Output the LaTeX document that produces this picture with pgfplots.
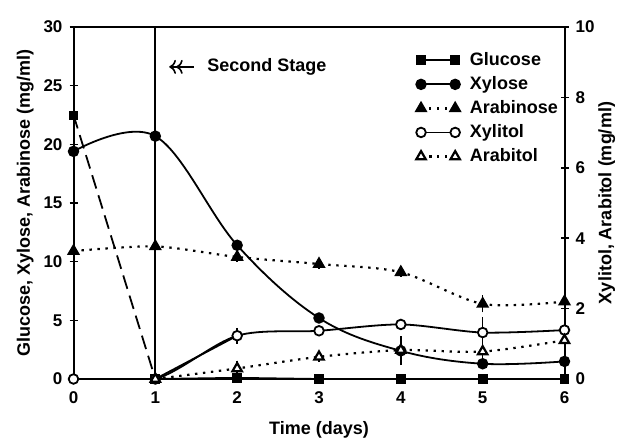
\documentclass[border=0pt]{standalone}
\usepackage{fontspec}
\setmainfont{Liberation Sans}
\usepackage{pgfplots}
\pgfplotsset{compat=1.18}
\usetikzlibrary{arrows.meta}
\begin{document}
\begin{tikzpicture}
\path[use as bounding box] (-36.75pt,-31pt) rectangle (275.75pt,189.5pt);
\pgfplotsset{
  common/.style={
    at={(0,0)}, anchor=south west,
    scale only axis, width=245.5pt, height=176pt,
    xmin=0, xmax=6,
    /pgf/number format/assume math mode=true,
    tick label style={font=\bfseries\fontsize{8.5}{10}\selectfont},
    label style={font=\bfseries\fontsize{9}{11}\selectfont},
    axis line style={line width=1pt},
    tick align=center,
    major tick length=4pt,
    every tick/.style={line width=0.8pt, black},
  },
  dotl/.style={dash pattern=on 1.2pt off 2.8pt, line width=1.1pt},
  solidl/.style={line width=0.9pt},
  eb/.style={error bars/y dir=both, error bars/y explicit, error bars/error bar style={line width=0.7pt, solid}, error bars/error mark options={mark size=2.5pt, line width=0.7pt, solid}},
}
\begin{axis}[common,
  ymin=0, ymax=30, ytick={0,5,...,30},
  xtick={0,...,6}, xtick pos=bottom, ytick pos=left,
  xtick style={draw=none},
  xticklabel style={yshift=-1pt},
  xlabel={Time (days)}, xlabel style={yshift=-2pt},
  ylabel={Glucose, Xylose, Arabinose (mg/ml)}, ylabel style={yshift=-2pt},
]
% second stage line
\addplot[line width=1.1pt, forget plot] coordinates {(1,0) (1,30)};
% glucose
\addplot[dash pattern=on 7pt off 3.5pt, line width=0.9pt, forget plot] coordinates {(0,22.5) (1,0)};
\addplot[only marks, mark=square*, mark size=2pt, eb, forget plot] coordinates {(0,22.5) +- (0,1.2)};
\addplot[solidl, mark=square*, mark size=2pt, forget plot] coordinates {(1,0) (2,0.1) (3,0) (4,0) (5,0) (6,0)};
% xylose
\addplot[solidl, smooth, tension=0.6, mark=*, mark size=2.4pt, eb, forget plot] coordinates {
 (0,19.4) +- (0,0.8)
 (1,20.7) +- (0,0.5)
 (2,11.4) +- (0,0)
 (3,5.2) +- (0,0)
 (4,2.4) +- (0,0.8)
 (5,1.3) +- (0,0)
 (6,1.5) +- (0,0)
};
% arabinose
\addplot[dotl, smooth, mark=triangle*, mark size=2.7pt, mark options={solid}, eb, forget plot] coordinates {
 (0,10.9) +- (0,0.6)
 (1,11.3) +- (0,0.3)
 (2,10.4) +- (0,0)
 (3,9.8) +- (0,0)
 (4,9.1) +- (0,0)
 (5,6.4) +- (0,0.3)
 (6,6.6) +- (0,0.4)
};
\draw[<<-, line width=0.8pt] (axis cs:1.17,26.6) -- (axis cs:1.47,26.6);
\node[anchor=west, font=\bfseries\fontsize{9}{11}\selectfont] at (axis cs:1.55,26.6) {Second Stage};
\end{axis}
\begin{axis}[common,
  ymin=0, ymax=10, ytick={0,2,...,10},
  axis y line*=right, axis x line=none,
  ylabel={Xylitol, Arabitol (mg/ml)}, ylabel shift=-5pt,
  legend style={draw=none, fill=none, at={(0.685,0.952)}, anchor=north west,
    font=\bfseries\fontsize{9}{11}\selectfont, row sep=0pt, cells={anchor=west},
    /tikz/every odd column/.append style={column sep=3pt}},
  legend image code/.code={\draw[mark repeat=2,mark phase=1,#1] plot coordinates {(0cm,0cm) (0.3cm,0cm) (0.6cm,0cm)};},
]
\addlegendimage{solidl, mark=square*, mark size=2pt}
\addlegendentry{Glucose}
\addlegendimage{solidl, mark=*, mark size=2.4pt}
\addlegendentry{Xylose}
\addlegendimage{dotl, mark=triangle*, mark size=2.7pt, mark options={solid}}
\addlegendentry{Arabinose}
% xylitol
\addplot[solidl, forget plot] coordinates {(0,0) (1,0) (2,1.23)};
\addplot[solidl, smooth, mark=*, mark size=2.4pt, mark options={fill=white}, eb] coordinates {
 (0,0) +- (0,0)
 (1,0) +- (0,0)
 (2,1.23) +- (0,0.08)
 (3,1.37) +- (0,0)
 (4,1.55) +- (0,0)
 (5,1.32) +- (0,0.3)
 (6,1.39) +- (0,0.1)
};
\addlegendentry{Xylitol}
% arabitol
\addplot[dotl, smooth, mark=triangle*, mark size=2.7pt, mark options={solid, fill=white}, eb] coordinates {
 (1,0) +- (0,0)
 (2,0.3) +- (0,0.08)
 (3,0.63) +- (0,0)
 (4,0.82) +- (0,0.2)
 (5,0.78) +- (0,0.2)
 (6,1.1) +- (0,0.2)
};
\addlegendentry{Arabitol}
\end{axis}
\end{tikzpicture}
\end{document}
